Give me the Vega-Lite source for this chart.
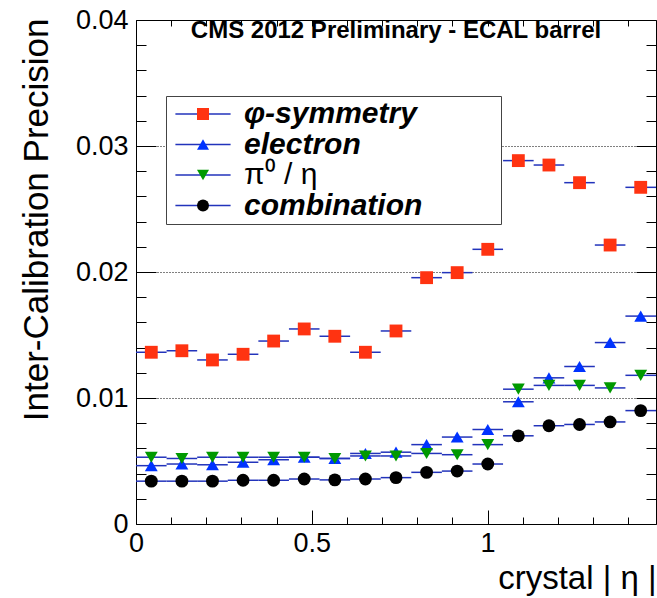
{
  "$schema": "https://vega.github.io/schema/vega-lite/v6.json",
  "width": 520,
  "height": 504,
  "autosize": {"type": "none"},
  "padding": {"left": 136, "top": 20, "right": 1, "bottom": 74},
  "background": "white",
  "config": {
    "font": "Liberation Sans",
    "view": {"stroke": "#000", "strokeWidth": 1}
  },
  "title": {
    "text": "CMS 2012 Preliminary - ECAL barrel",
    "font": "Liberation Sans",
    "fontSize": 24,
    "fontWeight": "bold",
    "color": "#000",
    "anchor": "middle",
    "frame": "group",
    "baseline": "alphabetic",
    "offset": 0,
    "dy": 56
  },
  "data": {
    "values": [
      {"s": "φ-symmetry", "x": 0.0435, "xlo": 0, "xhi": 0.087, "y": 0.01363},
      {"s": "φ-symmetry", "x": 0.1305, "xlo": 0.087, "xhi": 0.174, "y": 0.01375},
      {"s": "φ-symmetry", "x": 0.2175, "xlo": 0.174, "xhi": 0.261, "y": 0.01302},
      {"s": "φ-symmetry", "x": 0.3045, "xlo": 0.261, "xhi": 0.348, "y": 0.01347},
      {"s": "φ-symmetry", "x": 0.3915, "xlo": 0.348, "xhi": 0.435, "y": 0.01452},
      {"s": "φ-symmetry", "x": 0.4785, "xlo": 0.435, "xhi": 0.522, "y": 0.01548},
      {"s": "φ-symmetry", "x": 0.5655, "xlo": 0.522, "xhi": 0.609, "y": 0.0149},
      {"s": "φ-symmetry", "x": 0.6525, "xlo": 0.609, "xhi": 0.696, "y": 0.01363},
      {"s": "φ-symmetry", "x": 0.7395, "xlo": 0.696, "xhi": 0.783, "y": 0.01532},
      {"s": "φ-symmetry", "x": 0.8265, "xlo": 0.783, "xhi": 0.87, "y": 0.01955},
      {"s": "φ-symmetry", "x": 0.9135, "xlo": 0.87, "xhi": 0.957, "y": 0.01995},
      {"s": "φ-symmetry", "x": 1.0005, "xlo": 0.957, "xhi": 1.044, "y": 0.0218},
      {"s": "φ-symmetry", "x": 1.0875, "xlo": 1.044, "xhi": 1.131, "y": 0.02884},
      {"s": "φ-symmetry", "x": 1.1745, "xlo": 1.131, "xhi": 1.218, "y": 0.02849},
      {"s": "φ-symmetry", "x": 1.2615, "xlo": 1.218, "xhi": 1.305, "y": 0.02709},
      {"s": "φ-symmetry", "x": 1.3485, "xlo": 1.305, "xhi": 1.392, "y": 0.02214},
      {"s": "φ-symmetry", "x": 1.4355, "xlo": 1.392, "xhi": 1.479, "y": 0.02672},
      {"s": "electron", "x": 0.0435, "xlo": 0, "xhi": 0.087, "y": 0.00463},
      {"s": "electron", "x": 0.1305, "xlo": 0.087, "xhi": 0.174, "y": 0.00476},
      {"s": "electron", "x": 0.2175, "xlo": 0.174, "xhi": 0.261, "y": 0.0047},
      {"s": "electron", "x": 0.3045, "xlo": 0.261, "xhi": 0.348, "y": 0.0049},
      {"s": "electron", "x": 0.3915, "xlo": 0.348, "xhi": 0.435, "y": 0.0051},
      {"s": "electron", "x": 0.4785, "xlo": 0.435, "xhi": 0.522, "y": 0.0053},
      {"s": "electron", "x": 0.5655, "xlo": 0.522, "xhi": 0.609, "y": 0.0052},
      {"s": "electron", "x": 0.6525, "xlo": 0.609, "xhi": 0.696, "y": 0.0056},
      {"s": "electron", "x": 0.7395, "xlo": 0.696, "xhi": 0.783, "y": 0.0057},
      {"s": "electron", "x": 0.8265, "xlo": 0.783, "xhi": 0.87, "y": 0.0063},
      {"s": "electron", "x": 0.9135, "xlo": 0.87, "xhi": 0.957, "y": 0.0069},
      {"s": "electron", "x": 1.0005, "xlo": 0.957, "xhi": 1.044, "y": 0.0075},
      {"s": "electron", "x": 1.0875, "xlo": 1.044, "xhi": 1.131, "y": 0.0097},
      {"s": "electron", "x": 1.1745, "xlo": 1.131, "xhi": 1.218, "y": 0.0116},
      {"s": "electron", "x": 1.2615, "xlo": 1.218, "xhi": 1.305, "y": 0.0125},
      {"s": "electron", "x": 1.3485, "xlo": 1.305, "xhi": 1.392, "y": 0.0144},
      {"s": "electron", "x": 1.4355, "xlo": 1.392, "xhi": 1.479, "y": 0.0165},
      {"s": "π⁰ / η", "x": 0.0435, "xlo": 0, "xhi": 0.087, "y": 0.0053},
      {"s": "π⁰ / η", "x": 0.1305, "xlo": 0.087, "xhi": 0.174, "y": 0.0052},
      {"s": "π⁰ / η", "x": 0.2175, "xlo": 0.174, "xhi": 0.261, "y": 0.0053},
      {"s": "π⁰ / η", "x": 0.3045, "xlo": 0.261, "xhi": 0.348, "y": 0.0053},
      {"s": "π⁰ / η", "x": 0.3915, "xlo": 0.348, "xhi": 0.435, "y": 0.0053},
      {"s": "π⁰ / η", "x": 0.4785, "xlo": 0.435, "xhi": 0.522, "y": 0.0053},
      {"s": "π⁰ / η", "x": 0.5655, "xlo": 0.522, "xhi": 0.609, "y": 0.0052},
      {"s": "π⁰ / η", "x": 0.6525, "xlo": 0.609, "xhi": 0.696, "y": 0.0054},
      {"s": "π⁰ / η", "x": 0.7395, "xlo": 0.696, "xhi": 0.783, "y": 0.0054},
      {"s": "π⁰ / η", "x": 0.8265, "xlo": 0.783, "xhi": 0.87, "y": 0.0056},
      {"s": "π⁰ / η", "x": 0.9135, "xlo": 0.87, "xhi": 0.957, "y": 0.0055},
      {"s": "π⁰ / η", "x": 1.0005, "xlo": 0.957, "xhi": 1.044, "y": 0.0063},
      {"s": "π⁰ / η", "x": 1.0875, "xlo": 1.044, "xhi": 1.131, "y": 0.0107},
      {"s": "π⁰ / η", "x": 1.1745, "xlo": 1.131, "xhi": 1.218, "y": 0.011},
      {"s": "π⁰ / η", "x": 1.2615, "xlo": 1.218, "xhi": 1.305, "y": 0.011},
      {"s": "π⁰ / η", "x": 1.3485, "xlo": 1.305, "xhi": 1.392, "y": 0.0108},
      {"s": "π⁰ / η", "x": 1.4355, "xlo": 1.392, "xhi": 1.479, "y": 0.0118},
      {"s": "combination", "x": 0.0435, "xlo": 0, "xhi": 0.087, "y": 0.0034},
      {"s": "combination", "x": 0.1305, "xlo": 0.087, "xhi": 0.174, "y": 0.0034},
      {"s": "combination", "x": 0.2175, "xlo": 0.174, "xhi": 0.261, "y": 0.0034},
      {"s": "combination", "x": 0.3045, "xlo": 0.261, "xhi": 0.348, "y": 0.00347},
      {"s": "combination", "x": 0.3915, "xlo": 0.348, "xhi": 0.435, "y": 0.00347},
      {"s": "combination", "x": 0.4785, "xlo": 0.435, "xhi": 0.522, "y": 0.00357},
      {"s": "combination", "x": 0.5655, "xlo": 0.522, "xhi": 0.609, "y": 0.0035},
      {"s": "combination", "x": 0.6525, "xlo": 0.609, "xhi": 0.696, "y": 0.00357},
      {"s": "combination", "x": 0.7395, "xlo": 0.696, "xhi": 0.783, "y": 0.00368},
      {"s": "combination", "x": 0.8265, "xlo": 0.783, "xhi": 0.87, "y": 0.0041},
      {"s": "combination", "x": 0.9135, "xlo": 0.87, "xhi": 0.957, "y": 0.0042},
      {"s": "combination", "x": 1.0005, "xlo": 0.957, "xhi": 1.044, "y": 0.00476},
      {"s": "combination", "x": 1.0875, "xlo": 1.044, "xhi": 1.131, "y": 0.007},
      {"s": "combination", "x": 1.1745, "xlo": 1.131, "xhi": 1.218, "y": 0.0078},
      {"s": "combination", "x": 1.2615, "xlo": 1.218, "xhi": 1.305, "y": 0.0079},
      {"s": "combination", "x": 1.3485, "xlo": 1.305, "xhi": 1.392, "y": 0.0081},
      {"s": "combination", "x": 1.4355, "xlo": 1.392, "xhi": 1.479, "y": 0.009}
    ]
  },
  "resolve": {"axis": {"x": "independent", "y": "independent"}},
  "layer": [
    {
      "mark": {"type": "rule", "strokeWidth": 1.5},
      "encoding": {
        "x": {
          "field": "xlo",
          "type": "quantitative",
          "scale": {"domain": [0, 1.479], "nice": false, "zero": false},
          "axis": {
            "orient": "bottom",
            "title": "crystal | η |",
            "titleFontSize": 33,
            "titleFontWeight": "normal",
            "titleColor": "#000",
            "titleX": 520,
            "titleY": 64,
            "titleAlign": "right",
            "titleBaseline": "alphabetic",
            "values": [0, 0.5, 1],
            "labelExpr": "datum.value == 0 ? '0' : datum.value == 0.5 ? '0.5' : '1'",
            "labelFontSize": 27,
            "labelColor": "#000",
            "labelBaseline": "top",
            "labelFlush": false,
            "labelOverlap": false,
            "labelPadding": 6,
            "ticks": false,
            "domain": false,
            "grid": false
          }
        },
        "x2": {"field": "xhi"},
        "y": {
          "field": "y",
          "type": "quantitative",
          "scale": {"domain": [0, 0.04], "nice": false, "zero": true},
          "axis": {
            "orient": "left",
            "title": "Inter-Calibration Precision",
            "titleFontSize": 35,
            "titleFontWeight": "normal",
            "titleColor": "#000",
            "titleAngle": -90,
            "titleX": -89,
            "titleY": -2,
            "titleAlign": "right",
            "titleBaseline": "alphabetic",
            "values": [0, 0.01, 0.02, 0.03, 0.04],
            "labelExpr": "datum.value == 0 ? '0' : format(datum.value, '.2f')",
            "labelFontSize": 27,
            "labelColor": "#000",
            "labelFlush": false,
            "labelOverlap": false,
            "labelPadding": 8,
            "ticks": false,
            "domain": false,
            "grid": true,
            "gridColor": "#000",
            "gridDash": [1, 2],
            "gridWidth": 1,
            "gridOpacity": {"condition": {"test": "datum.value > 0.005 && datum.value < 0.035", "value": 1}, "value": 0}
          }
        },
        "color": {
          "field": "s",
          "type": "nominal",
          "scale": {"domain": ["combination", "π⁰ / η", "electron", "φ-symmetry"], "range": ["#2233bb", "#2233bb", "#2233bb", "#2233bb"]},
          "legend": {
            "orient": "none",
            "legendX": 30,
            "legendY": 76,
            "title": null,
            "values": ["φ-symmetry", "electron", "π⁰ / η", "combination"],
            "fillColor": "#ffffff",
            "strokeColor": "#444444",
            "padding": 3,
            "rowPadding": 0.5,
            "symbolType": "M-4.6,0H4.6",
            "symbolSize": 144,
            "symbolStrokeWidth": 1.5,
            "symbolOffset": 19,
            "labelOffset": 250,
            "labelFontSize": 30,
            "labelFont": "Liberation Sans",
            "labelOpacity": 0,
            "labelLimit": 6
          }
        }
      }
    },
    {
      "transform": [{"filter": "datum.s !== 'combination'"}],
      "mark": {"type": "point", "filled": true, "opacity": 1, "size": 165},
      "encoding": {
        "x": {
          "field": "x",
          "type": "quantitative",
          "axis": {
            "orient": "bottom",
            "title": null,
            "labels": false,
            "values": [0, 0.1, 0.2, 0.3, 0.4, 0.5, 0.6, 0.7, 0.8, 0.9, 1, 1.1, 1.2, 1.3, 1.4],
            "tickColor": "#000",
            "tickWidth": 1,
            "tickSize": {"condition": {"test": "abs(datum.value*2 - round(datum.value*2)) < 0.001", "value": -14}, "value": -7},
            "domain": false,
            "grid": false
          }
        },
        "y": {
          "field": "y",
          "type": "quantitative",
          "axis": {
            "orient": "left",
            "title": null,
            "labels": false,
            "values": [0, 0.002, 0.004, 0.006, 0.008, 0.01, 0.012, 0.014, 0.016, 0.018, 0.02, 0.022, 0.024, 0.026, 0.028, 0.03, 0.032, 0.034, 0.036, 0.038, 0.04],
            "tickColor": "#000",
            "tickWidth": 1,
            "tickSize": {"condition": {"test": "abs(datum.value*100 - round(datum.value*100)) < 0.001", "value": -20}, "value": -10},
            "domain": false,
            "grid": false
          }
        },
        "fill": {
          "field": "s",
          "type": "nominal",
          "scale": {"domain": ["φ-symmetry", "electron", "π⁰ / η", "combination"], "range": ["#ff3311", "#0033ff", "#009900", "#000000"]},
          "legend": {
            "orient": "none",
            "legendX": 30,
            "legendY": 76,
            "title": null,
            "padding": 3,
            "rowPadding": 0.5,
            "symbolSize": 144,
            "symbolOffset": 19,
            "labelOffset": 26,
            "labelFontSize": 30,
            "labelFont": "Liberation Sans",
            "labelColor": "#000",
            "labelFontWeight": {"expr": "datum.value === 'π⁰ / η' ? 'normal' : 'bold'"},
            "labelFontStyle": {"expr": "datum.value === 'π⁰ / η' ? 'normal' : 'italic'"},
            "labelLimit": 400
          }
        },
        "shape": {
          "field": "s",
          "type": "nominal",
          "scale": {"domain": ["φ-symmetry", "electron", "π⁰ / η", "combination"], "range": ["square", "triangle-up", "triangle-down", "circle"]},
          "legend": {
            "orient": "none",
            "legendX": 30,
            "legendY": 76,
            "title": null,
            "padding": 3,
            "rowPadding": 0.5,
            "symbolSize": 144,
            "symbolOffset": 19,
            "labelOffset": 26,
            "labelFontSize": 30,
            "labelFont": "Liberation Sans",
            "labelColor": "#000",
            "labelFontWeight": {"expr": "datum.value === 'π⁰ / η' ? 'normal' : 'bold'"},
            "labelFontStyle": {"expr": "datum.value === 'π⁰ / η' ? 'normal' : 'italic'"},
            "labelLimit": 400
          }
        }
      }
    },
    {
      "transform": [{"filter": "datum.s === 'combination'"}],
      "mark": {"type": "point", "filled": true, "opacity": 1, "size": 165},
      "encoding": {
        "x": {
          "field": "x",
          "type": "quantitative",
          "axis": {
            "orient": "top",
            "title": null,
            "labels": false,
            "values": [0, 0.1, 0.2, 0.3, 0.4, 0.5, 0.6, 0.7, 0.8, 0.9, 1, 1.1, 1.2, 1.3, 1.4],
            "tickColor": "#000",
            "tickWidth": 1,
            "tickSize": -6,
            "domain": false,
            "grid": false
          }
        },
        "y": {
          "field": "y",
          "type": "quantitative",
          "axis": {
            "orient": "right",
            "title": null,
            "labels": false,
            "values": [0, 0.002, 0.004, 0.006, 0.008, 0.01, 0.012, 0.014, 0.016, 0.018, 0.02, 0.022, 0.024, 0.026, 0.028, 0.03, 0.032, 0.034, 0.036, 0.038, 0.04],
            "tickColor": "#000",
            "tickWidth": 1,
            "tickSize": {"condition": {"test": "abs(datum.value*100 - round(datum.value*100)) < 0.001", "value": -20}, "value": -10},
            "domain": false,
            "grid": false
          }
        },
        "fill": {"field": "s", "type": "nominal"},
        "shape": {"field": "s", "type": "nominal"}
      }
    }
  ]
}
